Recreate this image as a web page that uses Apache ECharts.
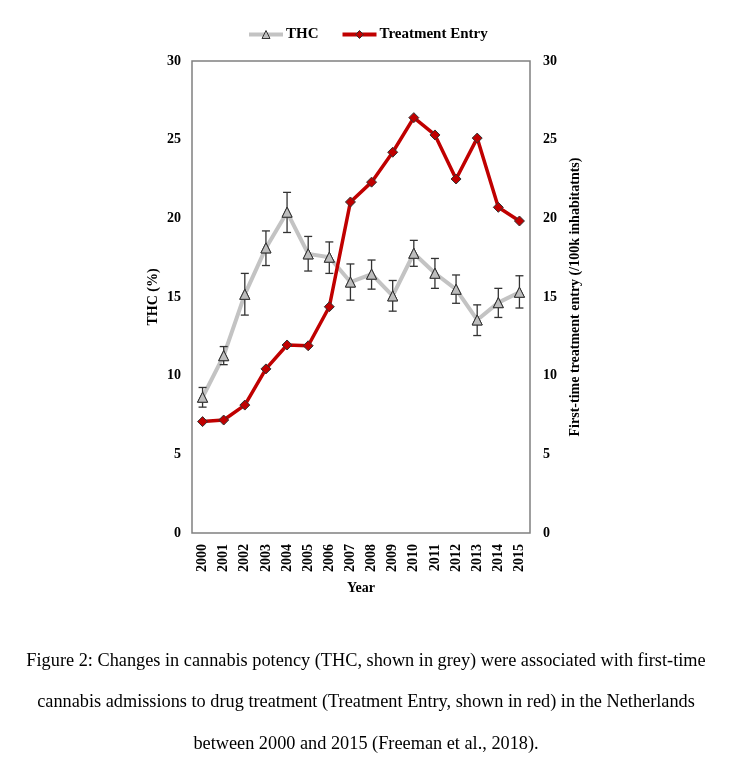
<!DOCTYPE html>
<html><head><meta charset="utf-8">
<script src="https://cdn.jsdelivr.net/npm/echarts@6/dist/echarts.min.js"></script>
<style>html,body{margin:0;padding:0;background:#fff}#c{width:732px;height:777px}</style>
</head><body><div id="c"></div>
<script>
const years = ['2000','2001','2002','2003','2004','2005','2006','2007','2008','2009','2010','2011','2012','2013','2014','2015'];
const thc = [8.63,11.27,15.17,18.12,20.39,17.74,17.53,15.95,16.45,15.07,17.78,16.51,15.49,13.54,14.64,15.3];
const thcLow = [8.0,10.7,13.85,17.0,19.1,16.65,16.5,14.8,15.5,14.1,16.95,15.55,14.6,12.55,13.7,14.3];
const thcHigh = [9.25,11.85,16.5,19.2,21.65,18.85,18.5,17.1,17.35,16.05,18.6,17.45,16.4,14.5,15.55,16.35];
const treatment = [7.08,7.18,8.13,10.43,11.95,11.9,14.38,21.04,22.3,24.2,26.4,25.3,22.5,25.1,20.7,19.83];
const yTicks = [0,5,10,15,20,25,30];
const caption = [
 'Figure 2: Changes in cannabis potency (THC, shown in grey) were associated with first-time',
 'cannabis admissions to drug treatment (Treatment Entry, shown in red) in the Netherlands',
 'between 2000 and 2015 (Freeman et al., 2018).'
];

const serif = '"Liberation Serif", "DejaVu Serif", serif';
const chart = echarts.init(document.getElementById('c'));
const lblStyle = {fontFamily: serif, fontWeight: 'bold', fontSize: 14, color: '#000'};
function yAx(pos, name, gap, margin) {
  return {
    type: 'value', position: pos, min: yTicks[0], max: yTicks[yTicks.length-1], interval: 5,
    name: name, nameLocation: 'middle', nameGap: gap, nameRotate: 90,
    nameTextStyle: {fontFamily: serif, fontWeight: 'bold', fontSize: 14, color: '#000'},
    axisLine: {show: false}, axisTick: {show: false}, splitLine: {show: false},
    axisLabel: Object.assign({margin: margin}, lblStyle)
  };
}
chart.setOption({
  animation: false,
  backgroundColor: '#fff',
  legend: {
    top: 22, left: 242, itemWidth: 34, itemHeight: 10, itemGap: 22,
    textStyle: {fontFamily: serif, fontWeight: 'bold', fontSize: 15, color: '#000', padding: [0,0,0,-2]},
    data: [
      {name: 'THC', itemStyle: {color: '#bdbdbd', borderColor: '#333', borderWidth: 1}, lineStyle: {color: '#c3c3c3', width: 4}},
      {name: 'Treatment Entry', itemStyle: {color: '#c00000', borderColor: '#333', borderWidth: 1}, lineStyle: {color: '#c00000', width: 4}}
    ]
  },
  grid: {left: 192, right: 202, top: 61, bottom: 244, show: true, borderColor: '#808080', borderWidth: 1.5, backgroundColor: 'transparent'},
  xAxis: {
    type: 'category', data: years, boundaryGap: true,
    name: 'Year', nameLocation: 'middle', nameGap: 48,
    nameTextStyle: {fontFamily: serif, fontWeight: 'bold', fontSize: 14, color: '#000'},
    axisLine: {show: false}, axisTick: {show: false},
    axisLabel: Object.assign({rotate: 90, margin: 11, interval: 0}, lblStyle)
  },
  yAxis: [yAx('left', 'THC (%)', 32, 11), yAx('right', 'First-time treatment entry (/100k inhabitatnts)', 38, 13)],
  series: [
    {
      name: 'THC', type: 'line', data: thc, yAxisIndex: 0, z: 2,
      lineStyle: {color: '#c3c3c3', width: 4},
      itemStyle: {color: '#bdbdbd', borderColor: '#333', borderWidth: 1},
      symbol: 'triangle', symbolSize: 10, showSymbol: true
    },
    {
      name: 'THC error', type: 'custom', yAxisIndex: 0, z: 3,
      data: years.map((y, i) => [i, thcLow[i], thcHigh[i]]),
      renderItem: function (params, api) {
        const lo = api.coord([api.value(0), api.value(1)]);
        const hi = api.coord([api.value(0), api.value(2)]);
        const w = 4;
        const st = {stroke: '#333', lineWidth: 1.3};
        return {type: 'group', children: [
          {type: 'line', shape: {x1: lo[0], y1: lo[1], x2: hi[0], y2: hi[1]}, style: st},
          {type: 'line', shape: {x1: lo[0]-w, y1: lo[1], x2: lo[0]+w, y2: lo[1]}, style: st},
          {type: 'line', shape: {x1: hi[0]-w, y1: hi[1], x2: hi[0]+w, y2: hi[1]}, style: st}
        ]};
      }
    },
    {
      name: 'THC pts', type: 'line', data: thc, yAxisIndex: 0, z: 4,
      lineStyle: {width: 0},
      itemStyle: {color: '#bdbdbd', borderColor: '#333', borderWidth: 1},
      symbol: 'triangle', symbolSize: 10
    },
    {
      name: 'Treatment Entry', type: 'line', data: treatment, yAxisIndex: 1, z: 5,
      lineStyle: {color: '#c00000', width: 3.5},
      itemStyle: {color: '#c00000', borderColor: '#333', borderWidth: 1},
      symbol: 'diamond', symbolSize: 10
    }
  ],
  graphic: caption.map((t, i) => ({
    type: 'text', left: 'center', top: 652 + i * 41.5,
    style: {text: t, fontFamily: serif, fontSize: 18.3, fill: '#000'}
  }))
});
</script></body></html>
